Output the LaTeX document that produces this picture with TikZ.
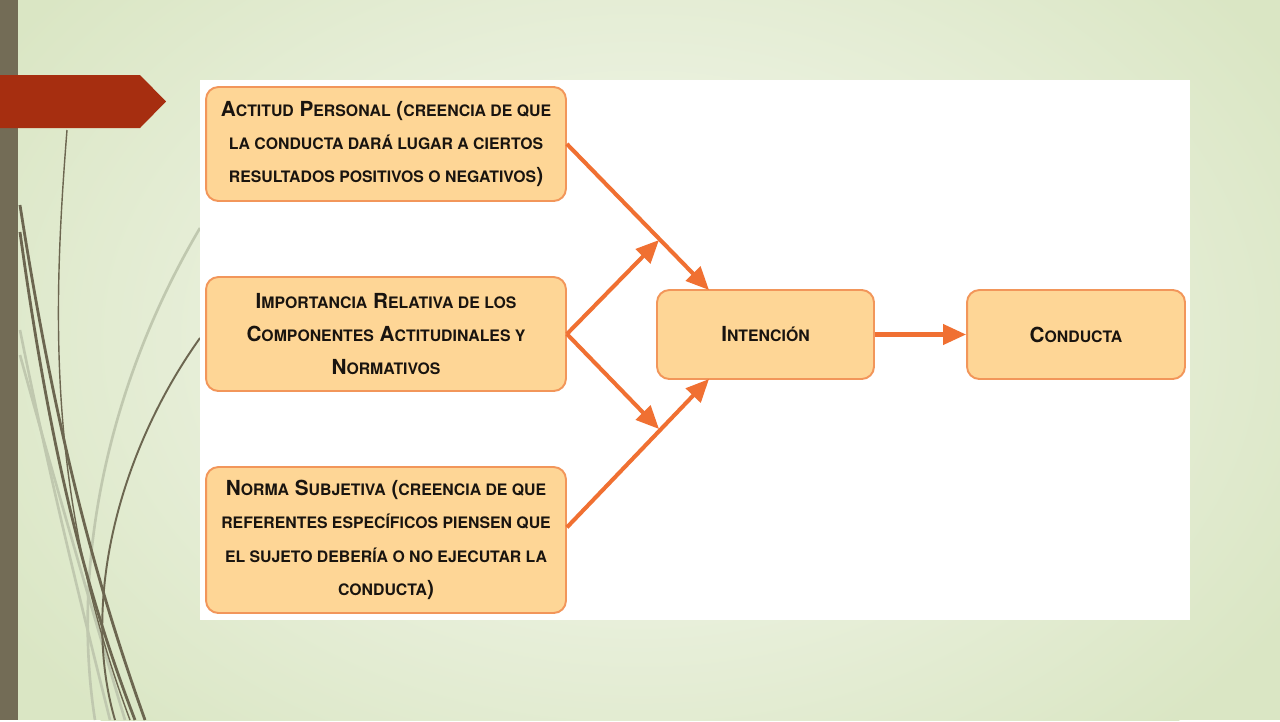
\documentclass[tikz,border=0pt]{standalone}
\usepackage{fontspec}
\setmainfont{TeX Gyre Heros}
\usetikzlibrary{arrows.meta}
% small capitals drawn as smaller upper case
\newcommand{\smc}[1]{{\fontsize{9}{19}\selectfont #1}}

\begin{document}
\begin{tikzpicture}[x=0.02cm, y=-0.02cm,
  box/.style={draw=boxline, fill=boxfill, line width=1.1pt, rounded corners=7pt,
    minimum width=7.2cm, align=center, text=ink, inner sep=0pt,
    font=\fontsize{11.8}{19}\selectfont\bfseries},
  flow/.style={-{Triangle[length=4.6mm, width=4mm]}, line width=2.3pt, arrowc},
  wispdark/.style={line width=1.6pt, wispd},
  wisplight/.style={line width=1.5pt, wispl}]
% Colors
\definecolor{bgbase}{RGB}{218,230,196}
\definecolor{bglight}{RGB}{247,249,242}
\definecolor{barolive}{RGB}{115,108,86}
\definecolor{tagred}{RGB}{166,46,16}
\definecolor{wispd}{RGB}{108,102,80}
\definecolor{wispl}{RGB}{192,200,175}
\definecolor{boxfill}{RGB}{254,214,150}
\definecolor{boxline}{RGB}{242,150,90}
\definecolor{arrowc}{RGB}{240,112,50}
\definecolor{ink}{RGB}{25,20,15}

% Slide background
\fill[bgbase] (0,0) rectangle (1280,720);
\begin{scope}
  \clip (0,0) rectangle (1280,720);
  \shade[inner color=bglight, outer color=bgbase] (640,340) ellipse (760 and 540);
\end{scope}

% Wisps on the left
\draw[wisplight] (200,228) .. controls (110,380) and (70,560) .. (95,720);
\draw[wisplight] (20,330) .. controls (50,480) and (80,600) .. (110,720);
\draw[wisplight] (20,355) .. controls (60,500) and (95,620) .. (125,720);
\draw[wispdark, line width=0.8pt] (67,130) .. controls (52,320) and (48,500) .. (130,720);
\draw[wispdark] (20,205) .. controls (55,430) and (95,580) .. (145,720);
\draw[wispdark] (20,232) .. controls (50,450) and (85,590) .. (135,720);
\draw[wispdark, line width=1.1pt] (200,338) .. controls (120,450) and (80,600) .. (115,720);

% Left bar and title tag
\fill[barolive] (0,0) rectangle (18,720);
\fill[tagred] (0,75) -- (140,75) -- (166,101.5) -- (140,128) -- (0,128) -- cycle;

% White panel
\fill[white] (200,80) rectangle (1190,620);

% Boxes
\node[box, minimum height=2.28cm] (actitud) at (386,144)
  {A\smc{CTITUD} P\smc{ERSONAL} (\smc{CREENCIA DE QUE}\\\smc{LA CONDUCTA DARÁ LUGAR A CIERTOS}\\\smc{RESULTADOS POSITIVOS O NEGATIVOS})};
\node[box, minimum height=2.28cm] (importancia) at (386,334)
  {I\smc{MPORTANCIA} R\smc{ELATIVA DE LOS}\\C\smc{OMPONENTES} A\smc{CTITUDINALES Y}\\N\smc{ORMATIVOS}};
\node[box, minimum height=2.92cm] (norma) at (386,540)
  {N\smc{ORMA} S\smc{UBJETIVA} (\smc{CREENCIA DE QUE}\\\smc{REFERENTES ESPECÍFICOS PIENSEN QUE}\\\smc{EL SUJETO DEBERÍA O NO EJECUTAR LA}\\\smc{CONDUCTA})};
\node[box, minimum width=4.34cm, minimum height=1.78cm] (intencion) at (765.5,334.5) {I\smc{NTENCIÓN}};
\node[box, minimum width=4.36cm, minimum height=1.78cm] (conducta) at (1076,334.5) {C\smc{ONDUCTA}};

% Arrow ends
\coordinate (intTop) at (709,290);
\coordinate (intBot) at (709,379);
\coordinate (upMid) at (659,240);
\coordinate (lowMid) at (659,429);

% Arrows
\draw[flow] (actitud.east) -- (intTop);
\draw[flow] (importancia.east) -- (upMid);
\draw[flow] (importancia.east) -- (lowMid);
\draw[flow] (norma.4) -- (intBot);
\draw[flow] (intencion) -- (conducta);

\end{tikzpicture}
\end{document}
